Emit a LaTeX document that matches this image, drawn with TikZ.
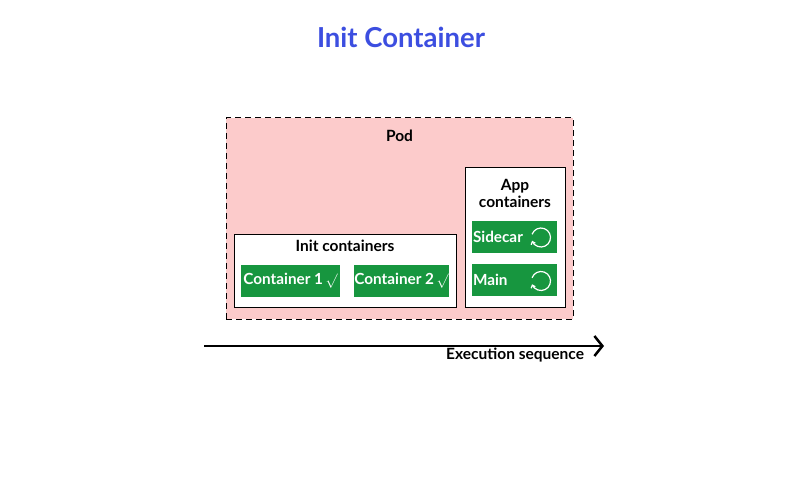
\documentclass[tikz,border=0pt]{standalone}
\usepackage{fontspec}
\setmainfont{Lato}
\usetikzlibrary{arrows.meta, positioning}

\definecolor{podpink}{HTML}{FCCBCB}
\definecolor{boxgreen}{HTML}{17963F}
\definecolor{titleblue}{HTML}{3C4EE0}

\begin{document}
\begin{tikzpicture}[
        x=1pt, y=1pt,
        every node/.style={inner sep=0pt, outer sep=0pt},
        podbox/.style={draw, line width=1pt, dash pattern=on 6pt off 4pt, fill=podpink, minimum width=347pt, minimum height=201pt},
        groupbox/.style={draw, line width=1pt, fill=white},
        ctrbox/.style={fill=boxgreen, text=white, font=\fontsize{15.3}{17}\selectfont\bfseries, minimum height=32pt},
        caption/.style={font=\fontsize{15.5}{17.5}\selectfont\bfseries, align=center},
        cycle/.style={white, line width=1.2pt, -{Straight Barb[length=2.5pt, width=4.5pt]}}
    ]
        \useasboundingbox (0,0) rectangle (800,480);

        % Titel
        \node [font=\fontsize{27.5}{31}\selectfont\bfseries, text=titleblue] (title) at (401,443) {Init Container};

        % Pod met groepen
        \node [podbox] (pod) at (399.5,261.5) {};
        \node [caption, below=12pt of pod.north] (podlabel) {Pod};

        \node [groupbox, minimum width=222pt, minimum height=73pt] (init) at (345,209.5) {};
        \node [caption, below=6pt of init.north] (initlabel) {Init containers};

        \node [groupbox, minimum width=100pt, minimum height=139pt] (app) at (515,242.5) {};
        \node [caption, below=11pt of app.north] (applabel) {App\\containers};

        % Containers
        \node [ctrbox, minimum width=99pt] (c1) at (290.5,199) {Container 1\,$\surd$};
        \node [ctrbox, minimum width=95pt] (c2) at (401.5,199) {Container 2\,$\surd$};
        \node [ctrbox, minimum width=85pt, text width=83pt, align=left] (side) at (514.5,243.5) {Sidecar};
        \node [ctrbox, minimum width=85pt, text width=83pt, align=left] (main) at (514.5,200) {Main};

        % herstart-pijltjes
        \coordinate (sidecyc) at (541,242.5);
        \coordinate (maincyc) at (541,199);
        \draw [cycle] (sidecyc) ++(160:9.5) arc (160:-160:9.5);
        \draw [cycle] (maincyc) ++(160:9.5) arc (160:-160:9.5);

        % tijdlijn
        \coordinate (seqstart) at (204,134);
        \coordinate (seqend) at (604,134);
        \draw [line width=2.5pt, -{Straight Barb[length=8pt, width=20pt, line width=2.5pt]}] (seqstart) -- (seqend);
        \node [caption, anchor=east] (seqlabel) at (584,125) {Execution sequence};
\end{tikzpicture}
\end{document}
